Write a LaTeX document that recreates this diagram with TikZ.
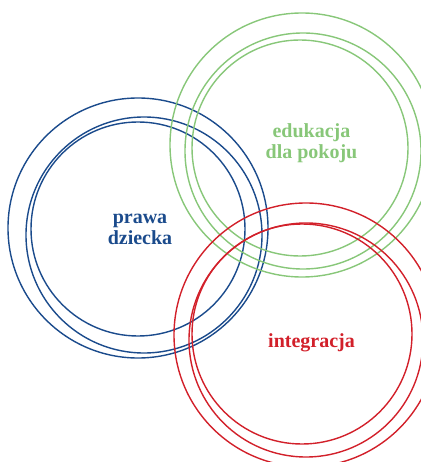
\documentclass[tikz,border=0pt]{standalone}
\usepackage{fontspec}
\setmainfont{Liberation Serif}
\usepackage{xcolor}
\usepackage{tikz}
\definecolor{rightscolor}{HTML}{1B4B8C}
\definecolor{peacecolor}{HTML}{88C779}
\definecolor{integcolor}{HTML}{D2202A}
\tikzset{%
  ring/.style={draw, circle, inner sep=0pt, line width=1.4pt},%
  caption/.style={align=center, font=\fontsize{20pt}{21pt}\selectfont\bfseries}%
}

\begin{document}
\begin{tikzpicture}[x=1pt, y=-1pt]%
\useasboundingbox (0,0) rectangle (420,462);%
\node[ring, draw=rightscolor, minimum size=260pt] (rights1) at (138, 228) {};%
\node[ring, draw=rightscolor, minimum size=236pt] (rights2) at (144, 235) {};%
\node[ring, draw=rightscolor, minimum size=214pt] (rights3) at (138, 229) {};%
\node[ring, draw=peacecolor, minimum size=264pt] (peace1) at (302, 145) {};%
\node[ring, draw=peacecolor, minimum size=236pt] (peace2) at (303, 151) {};%
\node[ring, draw=peacecolor, minimum size=216pt] (peace3) at (300, 148) {};%
\node[ring, draw=integcolor, minimum size=264pt] (integ1) at (306, 335) {};%
\node[ring, draw=integcolor, minimum size=234pt] (integ2) at (306, 340) {};%
\node[ring, draw=integcolor, minimum size=220pt] (integ3) at (302, 334) {};%
\node[caption, text=rightscolor] (rightstext) at (140, 229) {prawa\\dziecka};%
\node[caption, text=peacecolor] (peacetext) at (311.5, 143) {edukacja\\dla pokoju};%
\node[caption, text=integcolor, anchor=base] (integtext) at (311.5, 347) {integracja};%
\end{tikzpicture}
\end{document}
